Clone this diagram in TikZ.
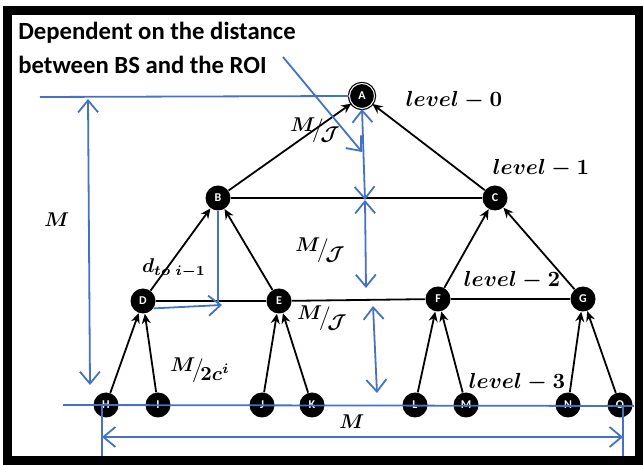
\documentclass[tikz,border=0pt]{standalone}
\usepackage{amsmath, amssymb}
\usepackage{fontspec}
\setsansfont{Carlito}
\usetikzlibrary{arrows.meta}
\definecolor{roiblue}{HTML}{4472C4}
\newcommand{\skewfrac}[2]{\raisebox{0.5ex}{$#1$}\!\big/\!\raisebox{-0.6ex}{$#2$}}

\begin{document}
\begin{tikzpicture}[x=0.5bp, y=-0.5bp,
  sensor/.style={circle, fill=black, inner sep=0pt, minimum size=12.5bp, text=white, font=\sffamily\bfseries\fontsize{6}{6}\selectfont},
  sink/.style={sensor, draw=black, double=white, double distance=0.5bp, line width=0.6bp},
  link/.style={-{Stealth[length=5bp, width=4.5bp]}, line width=0.9bp},
  dim/.style={draw=roiblue, line width=0.9bp},
  span/.style={dim, {Straight Barb[length=6bp, width=10bp]}-{Straight Barb[length=6bp, width=10bp]}},
  lvl/.style={inner sep=0pt, font=\fontsize{11}{13}\selectfont\boldmath},
  mathlbl/.style={inner sep=0pt, font=\fontsize{10}{12}\selectfont\boldmath}]
\useasboundingbox (0,0) rectangle (643,465);

\node[anchor=north west, align=left, inner sep=0pt, font=\sffamily\bfseries\fontsize{12.4}{17}\selectfont] (note) at (18,22) {Dependent on the distance\\between BS and the ROI};

\node[sink] (A) at (362,96) {A};
\node[sensor] (B) at (218,198) {B};
\node[sensor] (C) at (495,198) {C};
\node[sensor] (D) at (143,301) {D};
\node[sensor] (E) at (279,301) {E};
\node[sensor] (F) at (438,299) {F};
\node[sensor] (G) at (583,299) {G};
\node[sensor] (H) at (106,405) {H};
\node[sensor] (I) at (158,405) {I};
\node[sensor] (J) at (262,405) {J};
\node[sensor] (K) at (312,405) {K};
\node[sensor] (L) at (415,405) {L};
\node[sensor] (M) at (466,405) {M};
\node[sensor] (N) at (568,405) {N};
\node[sensor] (O) at (620,405) {O};

\draw[line width=0.9bp] (B) -- (C);
\draw[line width=0.9bp] (D) -- (E) (E) -- (F) (F) -- (G);
\draw[link] (B) -- (A);
\draw[link] (C) -- (A);
\draw[link] (D) -- (B);
\draw[link] (E) -- (B);
\draw[link] (F) -- (C);
\draw[link] (G) -- (C);
\draw[link] (H) -- (D);
\draw[link] (I) -- (D);
\draw[link] (J) -- (E);
\draw[link] (K) -- (E);
\draw[link] (L) -- (F);
\draw[link] (M) -- (F);
\draw[link] (N) -- (G);
\draw[link] (O) -- (G);

\coordinate (roof) at (40,97);
\coordinate (hightop) at (88,99);
\coordinate (highbot) at (90,385);
\coordinate (roitail) at (283,57);
\coordinate (roihead) at (362,152);
\coordinate (cross) at (365,200);
\coordinate (gapone) at (366,288);
\coordinate (gaptwo) at (373,306);
\coordinate (gapbot) at (377,393);
\coordinate (baseL) at (63,405);
\coordinate (baseR) at (634,406);
\coordinate (tickL) at (102,458);
\coordinate (tickR) at (623,458);
\coordinate (spanL) at (102,437);
\coordinate (spanR) at (623,437);
\coordinate (bfoot) at (218,305);
\coordinate (dhead) at (222,305);

\draw[dim] (roof) -- (A.west);
\draw[span] (hightop) -- (highbot);
\draw[dim, -{Straight Barb[length=6bp, width=10bp]}] (roitail) -- (roihead);
\draw[span] (A.south) -- (cross);
\draw[span] (cross) -- (gapone);
\draw[span] (gaptwo) -- (gapbot);
\draw[dim] (B.south) -- (bfoot);
\draw[dim, -{Straight Barb[length=6bp, width=10bp]}] (D.-35) -- (dhead);
\draw[dim] (baseL) -- (baseR);
\draw[dim] (tickL |- baseL) -- (tickL);
\draw[dim] (tickR |- baseL) -- (tickR);
\draw[span] (spanL) -- (spanR);

\draw[line width=4.5bp] (7.5,11) rectangle (639.5,460.5);

\node[lvl] (lvl0) at (454,100) {$level-0$};
\node[lvl] (lvl1) at (541,168) {$level-1$};
\node[lvl] (lvl2) at (512,280) {$level-2$};
\node[lvl] (lvl3) at (517,382) {$level-3$};
\node[mathlbl] (high) at (57,220) {$M$};
\node[mathlbl] (width) at (352,422) {$M$};
\node[mathlbl] (hopA) at (315,130) {\skewfrac{M}{\mathcal{J}}};
\node[mathlbl] (hopB) at (320,250) {\skewfrac{M}{\mathcal{J}}};
\node[mathlbl] (hopC) at (322,318) {\skewfrac{M}{\mathcal{J}}};
\node[mathlbl] (leafgap) at (200,370) {\skewfrac{M}{2c^{i}}};
\node[mathlbl] (dist) at (174,268) {$d_{to\;i-1}$};
\end{tikzpicture}
\end{document}
